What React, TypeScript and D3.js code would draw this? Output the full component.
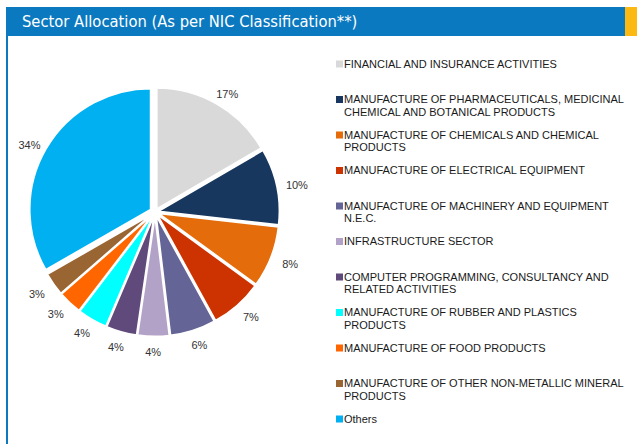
import React from "react";
import * as d3 from "d3";

const categories = [
  "FINANCIAL AND INSURANCE ACTIVITIES",
  "MANUFACTURE OF PHARMACEUTICALS, MEDICINAL|CHEMICAL AND BOTANICAL PRODUCTS",
  "MANUFACTURE OF CHEMICALS AND CHEMICAL|PRODUCTS",
  "MANUFACTURE OF ELECTRICAL EQUIPMENT",
  "MANUFACTURE OF MACHINERY AND EQUIPMENT|N.E.C.",
  "INFRASTRUCTURE SECTOR",
  "COMPUTER PROGRAMMING, CONSULTANCY AND|RELATED ACTIVITIES",
  "MANUFACTURE OF RUBBER AND PLASTICS|PRODUCTS",
  "MANUFACTURE OF FOOD PRODUCTS",
  "MANUFACTURE OF OTHER NON-METALLIC MINERAL|PRODUCTS",
  "Others",
];
const values = [16.6, 10.2, 8.2, 7.0, 6.1, 4.2, 4.1, 4.0, 3.2, 3.1, 33.3];
const valueLabels = ["17%", "10%", "8%", "7%", "6%", "4%", "4%", "4%", "3%", "3%", "34%"];
const colors = [
  "#d9d9d9", "#17375e", "#e46c0a", "#cc3300", "#646496", "#b3a2c7",
  "#604a7b", "#00ffff", "#ff6600", "#996633", "#00b0f0",
];
const title = "Sector Allocation (As per NIC Classification**)";

export default function App() {
  const W = 637, H = 444;
  const cx = 155, cy = 212, r = 121, explode = 3.5, labelRx = 145, labelRy = 138, labelDy = 2;
  const pie = d3.pie<number>().sort(null).value((d) => d).startAngle(0).endAngle(2 * Math.PI);
  const arcs = pie(values);
  const arc = d3.arc<d3.PieArcDatum<number>>().innerRadius(0).outerRadius(r);
  const legendY0 = 64, legendStep = 35.5, lineH = 12.3;
  return (
    <svg width={W} height={H} style={{ position: "absolute", left: 0, top: 0, background: "#fff" }}
      fontFamily="'Liberation Sans', Arial, sans-serif">
      <rect x={6} y={7} width={619} height={29} fill="#0b79c0" />
      <rect x={625} y={7} width={12} height={29} fill="#fdb913" />
      <rect x={6} y={36} width={2} height={H - 36} fill="#0b79c0" />
      <text x={22} y={27} fill="#fff" fontSize={16.4} fontFamily="'DejaVu Sans Condensed', 'DejaVu Sans', sans-serif">{title}</text>
      <g transform={`translate(${cx},${cy})`}>
        {arcs.map((a, i) => {
          const mid = (a.startAngle + a.endAngle) / 2;
          const e = i === values.length - 1 ? explode + 1.5 : explode;
          const dx = Math.sin(mid) * e, dy = -Math.cos(mid) * e;
          return (
            <path key={i} d={arc(a) || ""} fill={colors[i]} stroke="#fff" strokeWidth={1.8}
              transform={`translate(${dx},${dy})`} />
          );
        })}
        {arcs.map((a, i) => {
          const mid = (a.startAngle + a.endAngle) / 2;
          return (
            <text key={i} x={Math.sin(mid) * labelRx} y={-Math.cos(mid) * labelRy + labelDy} dy="0.35em"
              textAnchor="middle" fontSize={11} fill="#333">{valueLabels[i]}</text>
          );
        })}
      </g>
      <g>
        {categories.map((c, i) => {
          const y = legendY0 + i * legendStep;
          const lines = c.split("|");
          return (
            <g key={i}>
              <rect x={336} y={y - 3.5} width={7} height={7} fill={colors[i]} />
              {lines.map((l, j) => (
                <text key={j} x={344} y={y + j * lineH} dy="0.35em" fontSize={11} fill="#1a1a1a">{l}</text>
              ))}
            </g>
          );
        })}
      </g>
    </svg>
  );
}
